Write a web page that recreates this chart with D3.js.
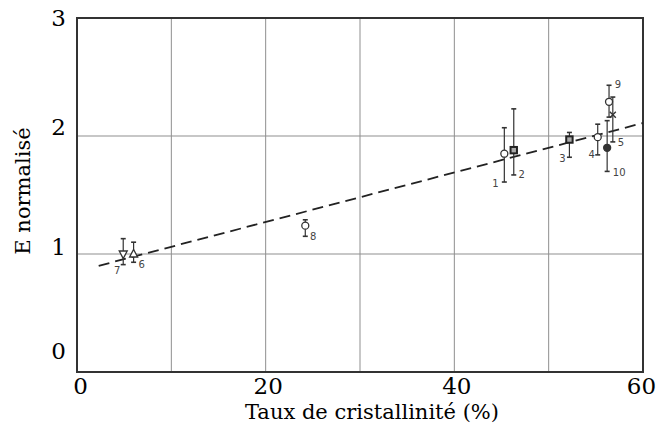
<!DOCTYPE html>
<html>
<head>
<meta charset="utf-8">
<script src="https://cdn.jsdelivr.net/npm/d3@7"></script>
<style>
  body { margin: 0; background: #fff; }
  svg { display: block; }
</style>
</head>
<body>
<div id="chart"></div>
<script>
// sample numbers, crystallinity (%) and normalised modulus with error bars
const ids    = ["1", "2", "3", "4", "5", "6", "7", "8", "9", "10"];
const xVals  = [45.3, 46.3, 52.2, 55.2, 56.8, 6.0, 4.9, 24.2, 56.4, 56.2];
const yVals  = [1.85, 1.88, 1.97, 1.99, 2.18, 1.00, 1.00, 1.24, 2.29, 1.90];
const yLow   = [1.61, 1.67, 1.82, 1.84, 1.95, 0.93, 0.91, 1.15, 2.16, 1.70];
const yHigh  = [2.07, 2.23, 2.03, 2.10, 2.33, 1.10, 1.13, 1.29, 2.43, 2.13];
const kinds  = ["circle", "square", "square", "circle", "cross", "triUp", "triDown", "circle", "circle", "circleFill"];

// dashed trend line
const trendX = [2.3, 60];
const trendY = [0.90, 2.11];

const xTicks = [0, 20, 40, 60];
const yTicks = [0, 1, 2, 3];
const xGrid = [10, 20, 30, 40, 50];
const yGrid = [1, 2];

const xTitle = "Taux de cristallinité (%)";
const yTitle = "E normalisé";

const W = 662, H = 425;
const margin = {top: 18, right: 19, bottom: 53, left: 77};
const serif = "DejaVu Serif";

const svg = d3.select("#chart").append("svg")
    .attr("width", W)
    .attr("height", H);

const x = d3.scaleLinear().domain([0, 60]).range([margin.left, W - margin.right]);
const y = d3.scaleLinear().domain([0, 3]).range([H - margin.bottom, margin.top]);

//grid
svg.append("g").selectAll("line")
    .data(xGrid)
    .join("line")
    .attr("x1", d => x(d)).attr("x2", d => x(d))
    .attr("y1", y(3)).attr("y2", y(0))
    .attr("stroke", "#8f8f8f")
    .attr("stroke-width", 1);

svg.append("g").selectAll("line")
    .data(yGrid)
    .join("line")
    .attr("x1", x(0)).attr("x2", x(60))
    .attr("y1", d => y(d)).attr("y2", d => y(d))
    .attr("stroke", "#8f8f8f")
    .attr("stroke-width", 1.2);

//frame
svg.append("rect")
    .attr("x", x(0)).attr("y", y(3))
    .attr("width", x(60) - x(0))
    .attr("height", y(0) - y(3))
    .attr("fill", "none")
    .attr("stroke", "#333")
    .attr("stroke-width", 2);

//axes
const xShift = {0: 3, 20: 2, 40: 2, 60: -2};
const xAxis = svg.append("g")
    .attr("transform", `translate(0,${y(0)})`)
    .call(d3.axisBottom(x).tickValues(xTicks).tickSize(0).tickPadding(6).tickFormat(d3.format("d")));
xAxis.select(".domain").remove();
xAxis.selectAll("text")
    .style("font-family", serif)
    .style("font-size", "23px")
    .attr("fill", "#000")
    .attr("dx", d => xShift[d]);

const yShift = {0: -21, 1: -7, 2: -9, 3: 0};
const yAxis = svg.append("g")
    .attr("transform", `translate(${x(0)},0)`)
    .call(d3.axisLeft(y).tickValues(yTicks).tickSize(0).tickPadding(11).tickFormat(d3.format("d")));
yAxis.select(".domain").remove();
yAxis.selectAll("text")
    .style("font-family", serif)
    .style("font-size", "23px")
    .attr("fill", "#000")
    .attr("transform", d => `translate(0,${yShift[d]})`);

svg.append("text")
    .style("font-family", serif)
    .attr("x", 372).attr("y", 419)
    .attr("text-anchor", "middle")
    .style("font-size", "21px")
    .text(xTitle);

svg.append("text")
    .style("font-family", serif)
    .attr("transform", "translate(30,191) rotate(-90)")
    .attr("text-anchor", "middle")
    .style("font-size", "21px")
    .text(yTitle);

//trend line
const trend = trendX.map((v, i) => [v, trendY[i]]);
svg.append("path")
    .datum(trend)
    .attr("d", d3.line().x(d => x(d[0])).y(d => y(d[1])))
    .attr("fill", "none")
    .attr("stroke", "#222")
    .attr("stroke-width", 1.8)
    .attr("stroke-dasharray", "11,6");

//points
const pts = ids.map((id, i) => ({id: id, x: xVals[i], y: yVals[i], lo: yLow[i], hi: yHigh[i], kind: kinds[i]}));

// label offsets from the marker, in pixels
const labelOffsets = {
    "1": [-9, 30], "2": [8, 24], "3": [-7, 19], "4": [-6, 17], "5": [8, 28],
    "6": [8, 10], "7": [-6, 16], "8": [8, 11], "9": [9, -17], "10": [12, 25]
};

const ink = "#333";
const gp = svg.append("g");

pts.forEach(p => {
    const cx = x(p.x), cy = y(p.y);
    const g = gp.append("g");
    // error bar
    g.append("line")
        .attr("x1", cx).attr("x2", cx)
        .attr("y1", y(p.hi)).attr("y2", y(p.lo))
        .attr("stroke", ink).attr("stroke-width", 1.2);
    [p.hi, p.lo].forEach(v => {
        g.append("line")
            .attr("x1", cx - 2.5).attr("x2", cx + 2.5)
            .attr("y1", y(v)).attr("y2", y(v))
            .attr("stroke", ink).attr("stroke-width", 1.6);
    });
    // marker
    if (p.kind === "circle" || p.kind === "circleFill") {
        g.append("circle")
            .attr("cx", cx).attr("cy", cy).attr("r", 3.5)
            .attr("fill", p.kind === "circleFill" ? ink : "#fff")
            .attr("stroke", ink).attr("stroke-width", 1.3);
    } else if (p.kind === "square") {
        g.append("rect")
            .attr("x", cx - 3.2).attr("y", cy - 3.2)
            .attr("width", 6.4).attr("height", 6.4)
            .attr("fill", "#aaa")
            .attr("stroke", "#222").attr("stroke-width", 2);
    } else if (p.kind === "cross") {
        g.append("path")
            .attr("d", `M${cx - 3},${cy - 3}L${cx + 3},${cy + 3}M${cx + 3},${cy - 3}L${cx - 3},${cy + 3}`)
            .attr("stroke", ink).attr("stroke-width", 1.4);
    } else if (p.kind === "triUp") {
        g.append("path")
            .attr("d", `M${cx},${cy - 4.5}L${cx + 4},${cy + 3}L${cx - 4},${cy + 3}Z`)
            .attr("fill", "#fff").attr("stroke", ink).attr("stroke-width", 1.3);
    } else if (p.kind === "triDown") {
        g.append("path")
            .attr("d", `M${cx - 4},${cy - 3}L${cx + 4},${cy - 3}L${cx},${cy + 4.5}Z`)
            .attr("fill", "#fff").attr("stroke", ink).attr("stroke-width", 1.3);
    }
    const off = labelOffsets[p.id];
    g.append("text")
        .attr("x", cx + off[0]).attr("y", cy + off[1])
        .attr("text-anchor", "middle")
        .attr("dominant-baseline", "central")
        .attr("font-family", "DejaVu Sans, sans-serif")
        .attr("font-size", 10)
        .attr("fill", "#444")
        .text(p.id);
});
</script>
</body>
</html>
